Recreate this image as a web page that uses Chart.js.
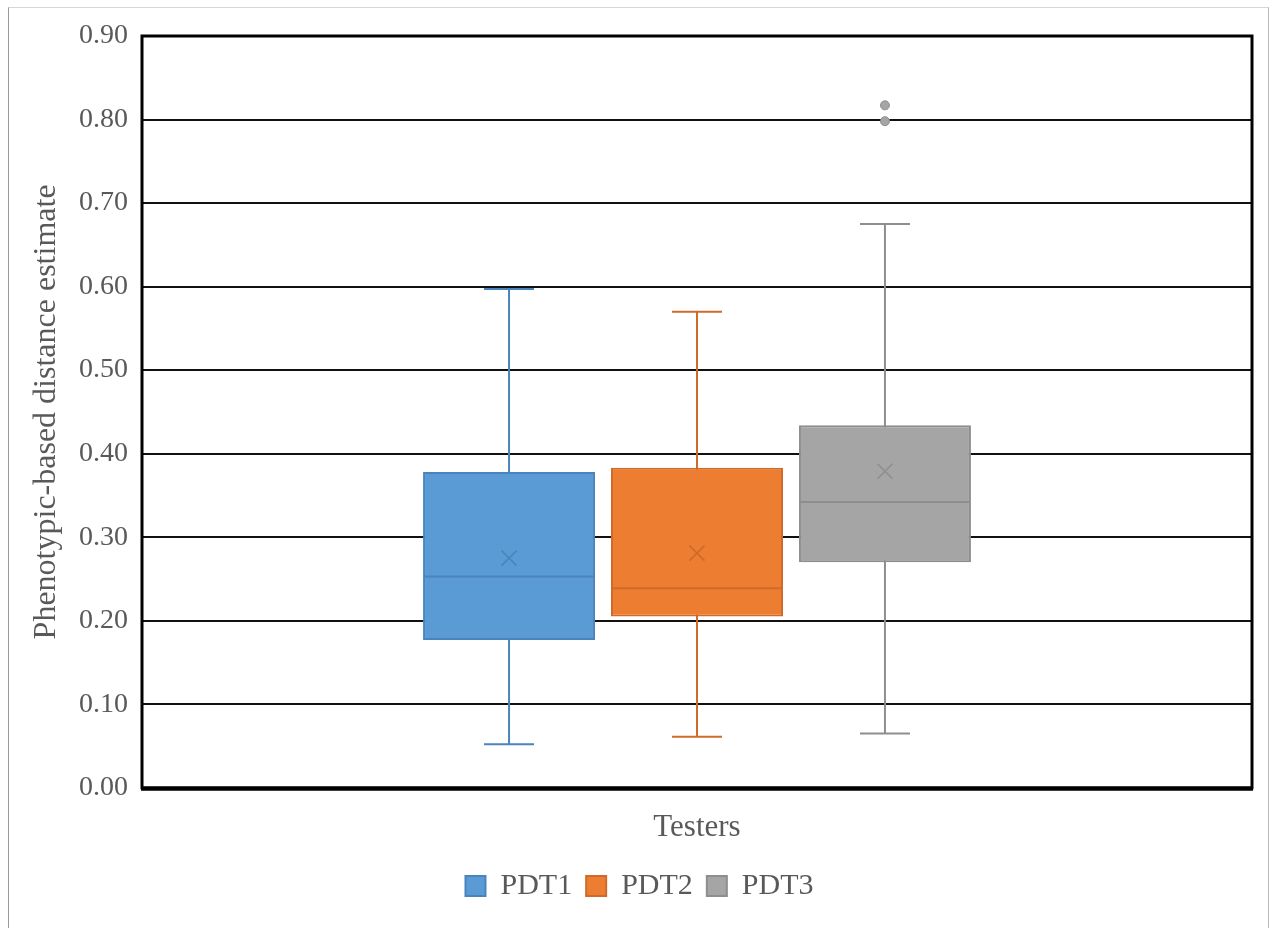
<!DOCTYPE html>
<html>
<head>
<meta charset="utf-8">
<title>Phenotypic-based distance estimate by tester</title>
<script src="https://cdn.jsdelivr.net/npm/chart.js@4.4.1/dist/chart.umd.min.js"></script>
<style>
  body { margin: 0; background: #fff; }
  #wrap { position: relative; width: 1272px; height: 928px; }
  #frame {
    position: absolute; left: 8px; top: 7px; width: 1259px; height: 930px;
    border-left: 1px solid #9a9a9a; border-top: 1px solid #d6d6d6; border-right: 1px solid #b8b8b8;
    pointer-events: none;
  }
  canvas { position: absolute; left: 0; top: 0; }
</style>
</head>
<body>
<div id="wrap">
  <canvas id="chart-graph-testers" width="1272" height="928"></canvas>
  <div id="frame"></div>
</div>
<script>
// five-number summaries per tester
var testers = ['PDT1', 'PDT2', 'PDT3'];
var minVals = [0.052, 0.061, 0.065];
var q1Vals = [0.177, 0.205, 0.270];
var medianVals = [0.253, 0.239, 0.342];
var q3Vals = [0.378, 0.383, 0.434];
var maxVals = [0.597, 0.570, 0.675];
var meanVals = [0.275, 0.281, 0.379];
var outlierVals = [[], [], [0.798, 0.817]];
var yTicks = [0, 0.1, 0.2, 0.3, 0.4, 0.5, 0.6, 0.7, 0.8, 0.9];

var fillColors = ['#5b9bd5', '#ed7d31', '#a5a5a5'];
var lineColors = ['#4a84bd', '#cf6b2a', '#8e8e8e'];
var serif = '"Liberation Serif", "Times New Roman", serif';

// whiskers go under the boxes, median / mean / outliers on top
var boxPlotParts = {
    id: 'boxPlotParts',
    beforeDatasetsDraw: function (chart) {
        var ctx = chart.ctx, y = chart.scales.y;
        chart.data.datasets.forEach(function (ds, i) {
            var bar = chart.getDatasetMeta(i).data[0];
            var cap = 25;
            ctx.save();
            ctx.strokeStyle = lineColors[i];
            ctx.lineWidth = 2;
            ctx.beginPath();
            ctx.moveTo(bar.x, y.getPixelForValue(maxVals[i]));
            ctx.lineTo(bar.x, y.getPixelForValue(minVals[i]));
            ctx.moveTo(bar.x - cap, y.getPixelForValue(maxVals[i]));
            ctx.lineTo(bar.x + cap, y.getPixelForValue(maxVals[i]));
            ctx.moveTo(bar.x - cap, y.getPixelForValue(minVals[i]));
            ctx.lineTo(bar.x + cap, y.getPixelForValue(minVals[i]));
            ctx.stroke();
            ctx.restore();
        });
    },
    afterDatasetsDraw: function (chart) {
        var ctx = chart.ctx, y = chart.scales.y;
        chart.data.datasets.forEach(function (ds, i) {
            var bar = chart.getDatasetMeta(i).data[0];
            var half = bar.width / 2 - 1;
            var my = y.getPixelForValue(medianVals[i]);
            ctx.save();
            ctx.strokeStyle = lineColors[i];
            ctx.lineWidth = 2;
            ctx.beginPath();
            ctx.moveTo(bar.x - half, my);
            ctx.lineTo(bar.x + half, my);
            ctx.stroke();

            // mean marker
            var ay = y.getPixelForValue(meanVals[i]), s = 7.5;
            ctx.lineWidth = 1.6;
            ctx.beginPath();
            ctx.moveTo(bar.x - s, ay - s);
            ctx.lineTo(bar.x + s, ay + s);
            ctx.moveTo(bar.x + s, ay - s);
            ctx.lineTo(bar.x - s, ay + s);
            ctx.stroke();

            outlierVals[i].forEach(function (v) {
                ctx.beginPath();
                ctx.arc(bar.x, y.getPixelForValue(v), 4.5, 0, Math.PI * 2);
                ctx.fillStyle = fillColors[i];
                ctx.fill();
                ctx.lineWidth = 1;
                ctx.strokeStyle = lineColors[i];
                ctx.stroke();
            });
            ctx.restore();
        });
    },
    afterDraw: function (chart) {
        var ctx = chart.ctx, a = chart.chartArea;
        ctx.save();
        ctx.strokeStyle = '#000';
        ctx.lineWidth = 3;
        ctx.strokeRect(a.left, a.top, a.right - a.left, a.bottom - a.top);
        ctx.lineWidth = 4;
        ctx.beginPath();
        ctx.moveTo(a.left - 1, a.bottom + 1);
        ctx.lineTo(a.right + 1, a.bottom + 1);
        ctx.stroke();
        ctx.restore();
    }
};

var datasets = testers.map(function (name, i) {
    return {
        label: name,
        data: [[q1Vals[i], q3Vals[i]]],
        backgroundColor: fillColors[i],
        borderColor: lineColors[i],
        borderWidth: 2,
        borderSkipped: false,
        categoryPercentage: 0.508,
        barPercentage: 0.915
    };
});

new Chart(document.getElementById('chart-graph-testers').getContext('2d'), {
    type: 'bar',
    data: { labels: [''], datasets: datasets },
    options: {
        responsive: false,
        animation: false,
        layout: { padding: { left: 27, right: 20, top: 36, bottom: 17 } },
        plugins: {
            tooltip: { enabled: false },
            legend: {
                position: 'bottom',
                labels: {
                    color: '#595959',
                    font: { family: serif, size: 30 },
                    boxWidth: 20,
                    boxHeight: 20,
                    padding: 14
                }
            }
        },
        scales: {
            x: {
                grid: { display: false },
                border: { display: false },
                ticks: { display: false },
                title: {
                    display: true,
                    text: 'Testers',
                    color: '#595959',
                    font: { family: serif, size: 31 },
                    padding: { top: 13, bottom: 11 }
                }
            },
            y: {
                min: 0,
                max: 0.9,
                afterFit: function (scale) { scale.width = 115; },
                afterBuildTicks: function (scale) {
                    scale.ticks = yTicks.map(function (v) { return { value: v }; });
                },
                grid: { color: '#111', lineWidth: 2, drawTicks: false },
                border: { display: false },
                ticks: {
                    color: '#595959',
                    padding: 14,
                    font: { family: serif, size: 28 },
                    callback: function (v) { return Number(v).toFixed(2); }
                },
                title: {
                    display: true,
                    text: 'Phenotypic-based distance estimate',
                    color: '#595959',
                    font: { family: serif, size: 32 },
                    padding: { top: 0, bottom: 0 }
                }
            }
        }
    },
    plugins: [boxPlotParts]
});
</script>
</body>
</html>
